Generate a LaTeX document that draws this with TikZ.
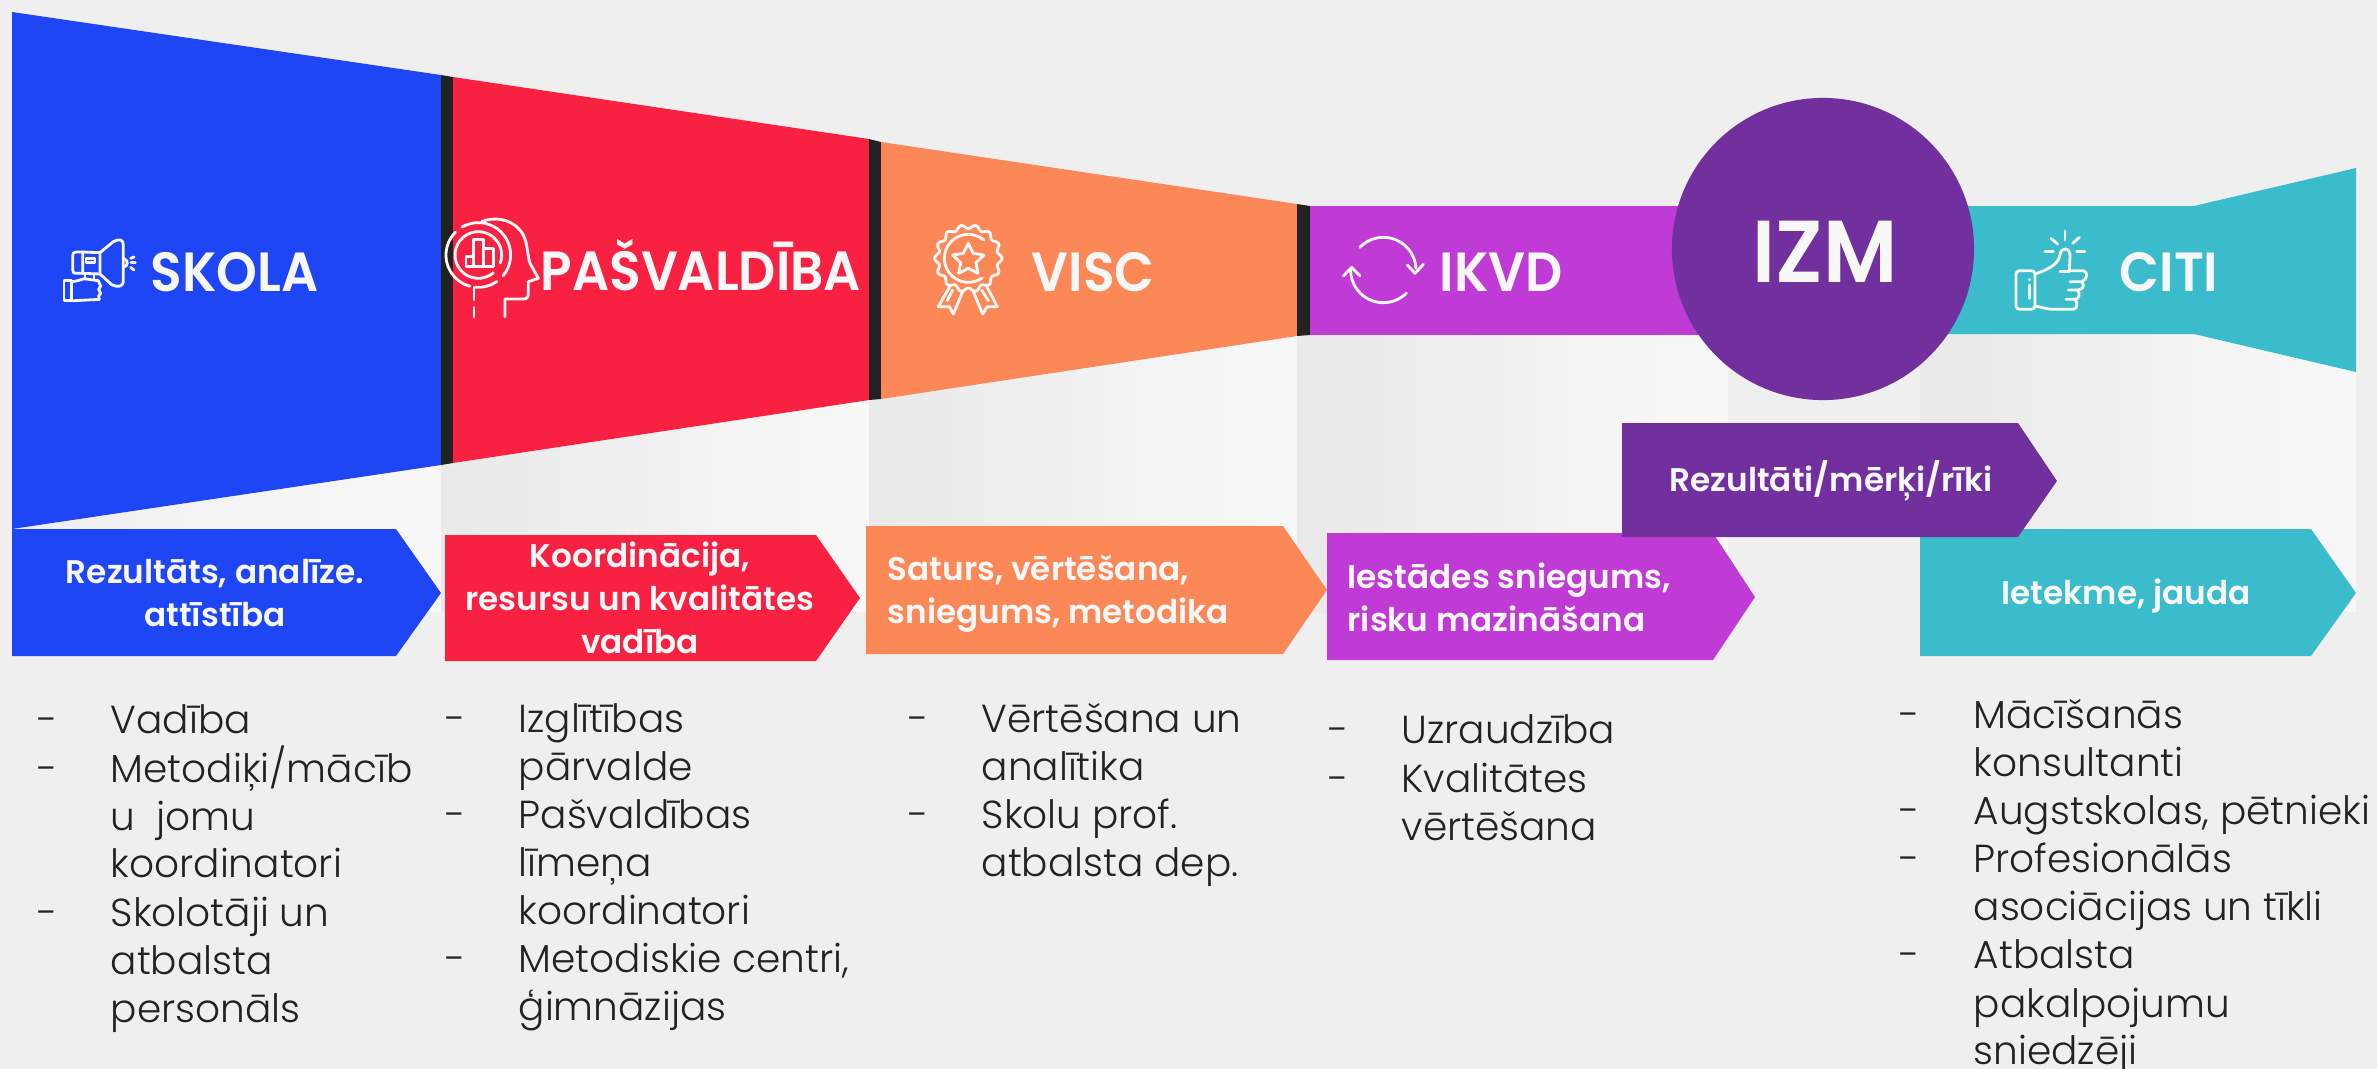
\documentclass[tikz,border=0pt]{standalone}
\usepackage{fontspec}
\setmainfont{Poppins}[UprightFont=* Light,BoldFont=* SemiBold]
\newfontfamily\headfont{Poppins SemiBold}[FakeStretch=0.94]
\definecolor{bgcol}{HTML}{EFEFEF}
\definecolor{skolacol}{HTML}{1F46F5}
\definecolor{pasvcol}{HTML}{F92142}
\definecolor{visccol}{HTML}{FC8858}
\definecolor{ikvdcol}{HTML}{C03BD6}
\definecolor{izmcol}{HTML}{71309E}
\definecolor{citicol}{HTML}{3BBCCC}
\definecolor{barcol}{HTML}{222222}
\definecolor{txtwhite}{HTML}{F8F8F8}
\definecolor{panelhi}{HTML}{F8F8F8}
\definecolor{panello}{HTML}{EAEAEA}
\tikzset{
  head/.style={text=txtwhite, font=\headfont\fontsize{15.7}{18}\selectfont, anchor=base west, inner sep=0},
  lbl/.style={text=txtwhite, font=\bfseries\fontsize{9.3}{12.3}\selectfont, align=center, inner sep=0},
  lbll/.style={lbl, align=left, anchor=west},
  itemtxt/.style={text=barcol, font=\fontsize{11.1}{13.66}\selectfont, anchor=base west, inner sep=0},
  dashtxt/.style={itemtxt},
  icon/.style={draw=txtwhite, line width=.8pt, line cap=round, line join=round},
}

\begin{document}
\begin{tikzpicture}[x=.01cm, y=-.01cm]
\useasboundingbox (0,0) rectangle (2377,1069);
\fill[bgcol] (0,0) rectangle (2377,1069);

% pale panels under the funnel
\shade[left color=bgcol, right color=panelhi] (12,529) -- (441,465) -- (441,612) -- (12,612) -- cycle;
\fill[panello] (441,465) rectangle (453,612);
\shade[left color=panello, right color=panelhi] (453,463) -- (869,400) -- (869,612) -- (453,612) -- cycle;
\fill[panello] (869,400) rectangle (881,612);
\shade[left color=panello, right color=panelhi] (881,399) -- (1297,336) -- (1297,612) -- (881,612) -- cycle;
\fill[panello] (1297,336) rectangle (1310,612);
\shade[left color=panello, right color=panelhi] (1310,335) rectangle (1728,612);
\shade[left color=panello, right color=panelhi] (1920,334) -- (2194,334) -- (2356,372) -- (2356,612) -- (1920,612) -- cycle;

% funnel
\fill[skolacol] (12,12) -- (441,75) -- (441,465) -- (12,529) -- cycle;
\fill[barcol] (441,75) -- (453,77) -- (453,463) -- (441,465) -- cycle;
\fill[pasvcol] (453,77) -- (869,139) -- (869,400) -- (453,463) -- cycle;
\fill[barcol] (869,139) -- (881,142) -- (881,399) -- (869,400) -- cycle;
\fill[visccol] (881,142) -- (1297,204) -- (1297,336) -- (881,399) -- cycle;
\fill[barcol] (1297,204) -- (1310,206) -- (1310,335) -- (1297,336) -- cycle;
\fill[ikvdcol] (1310,206) rectangle (1750,335);
\fill[citicol] (1900,206) -- (2194,206) -- (2356,168) -- (2356,372) -- (2194,334) -- (1900,334) -- cycle;
\node[circle, fill=izmcol, minimum size=3.02cm, inner sep=0] (izm) at (1823,249) {};

% arrows
\fill[skolacol] (12,529) -- (396,529) -- (441,593) -- (396,656) -- (12,656) -- cycle;
\fill[pasvcol] (445,535) -- (816,535) -- (860,598) -- (816,661) -- (445,661) -- cycle;
\fill[visccol] (866,526) -- (1283,526) -- (1327,590) -- (1283,654) -- (866,654) -- cycle;
\fill[ikvdcol] (1327,533) -- (1713,533) -- (1755,597) -- (1713,660) -- (1327,660) -- cycle;
\fill[citicol] (1920,529) -- (2311,529) -- (2356,593) -- (2311,656) -- (1920,656) -- cycle;
\fill[izmcol] (1622,423) -- (2018,423) -- (2057,481) -- (2018,537) -- (1622,537) -- cycle;

% headings
\node[head] (skola) at (150,291) {SKOLA};
\node[head] (pasv) at (540,290) {PAŠVALDĪBA};
\node[head] (visc) at (1031,291) {VISC};
\node[head] (ikvd) at (1439,291) {IKVD};
\node[head] (citi) at (2119,291) {CITI};
\node[head, font=\headfont\fontsize{25}{28}\selectfont, anchor=base] (izmtxt) at (1825,282) {IZM};

% arrow labels
\node[lbl] (skolalbl) at (215,593) {Rezultāts, analīze.\\attīstība};
\node[lbl] (pasvlbl) at (640,598) {Koordinācija,\\resursu un kvalitātes\\vadība};
\node[lbll] (visclbl) at (887,594) {Saturs, vērtēšana,\\sniegums, metodika};
\node[lbll] (ikvdlbl) at (1347,597) {Iestādes sniegums,\\risku mazināšana};
\node[lbl] (izmlbl) at (1831,481) {Rezultāti/mērķi/rīki};
\node[lbl] (citilbl) at (2126,596) {Ietekme, jauda};

% lists
\node[dashtxt] (d11) at (37,733) {-};
\node[itemtxt] (t11) at (110,733) {Vadība};
\node[dashtxt] (d12) at (37,782) {-};
\node[itemtxt] (t12) at (110,782) {Metodiķi/mācīb};
\node[itemtxt] (t13) at (110,830) {u\ \ jomu};
\node[itemtxt] (t14) at (110,877) {koordinatori};
\node[dashtxt] (d15) at (37,926) {-};
\node[itemtxt] (t15) at (110,926) {Skolotāji un};
\node[itemtxt] (t16) at (110,974) {atbalsta};
\node[itemtxt] (t17) at (110,1022) {personāls};

\node[dashtxt] (d21) at (445,732) {-};
\node[itemtxt] (t21) at (518,732) {Izglītības};
\node[itemtxt] (t22) at (518,780) {pārvalde};
\node[dashtxt] (d23) at (445,828) {-};
\node[itemtxt] (t23) at (518,828) {Pašvaldības};
\node[itemtxt] (t24) at (518,876) {līmeņa};
\node[itemtxt] (t25) at (518,924) {koordinatori};
\node[dashtxt] (d26) at (445,972) {-};
\node[itemtxt] (t26) at (518,972) {Metodiskie centri,};
\node[itemtxt] (t27) at (518,1020) {ģimnāzijas};

\node[dashtxt] (d31) at (908,732) {-};
\node[itemtxt] (t31) at (981,732) {Vērtēšana un};
\node[itemtxt] (t32) at (981,780) {analītika};
\node[dashtxt] (d33) at (908,828) {-};
\node[itemtxt] (t33) at (981,828) {Skolu prof.};
\node[itemtxt] (t34) at (981,876) {atbalsta dep.};

\node[dashtxt] (d41) at (1328,743) {-};
\node[itemtxt] (t41) at (1401,743) {Uzraudzība};
\node[dashtxt] (d42) at (1328,792) {-};
\node[itemtxt] (t42) at (1401,792) {Kvalitātes};
\node[itemtxt] (t43) at (1401,840) {vērtēšana};

\node[dashtxt] (d51) at (1899,728) {-};
\node[itemtxt] (t51) at (1973,728) {Mācīšanās};
\node[itemtxt] (t52) at (1973,776) {konsultanti};
\node[dashtxt] (d53) at (1899,824) {-};
\node[itemtxt] (t53) at (1973,824) {Augstskolas, pētnieki};
\node[dashtxt] (d54) at (1899,872) {-};
\node[itemtxt] (t54) at (1973,872) {Profesionālās};
\node[itemtxt] (t55) at (1973,920) {asociācijas un tīkli};
\node[dashtxt] (d56) at (1899,968) {-};
\node[itemtxt] (t56) at (1973,968) {Atbalsta};
\node[itemtxt] (t57) at (1973,1017) {pakalpojumu};
\node[itemtxt] (t58) at (1973,1064) {sniedzēji};

% megaphone
\begin{scope}[shift={(30,210)}, scale=1/3]
\draw[icon] (210,128) -- (250,95) .. controls (268,85) and (280,88) .. (280,105) -- (280,212) .. controls (280,232) and (262,232) .. (245,224) -- (210,192);
\draw[icon] (210,128) -- (158,126) -- (158,190) -- (210,192) -- cycle;
\draw[icon] (158,126) -- (138,126) .. controls (130,126) and (128,130) .. (128,138) -- (128,180) .. controls (128,188) and (132,190) .. (138,190) -- (158,190);
\draw[icon] (168,145) rectangle (195,157);
\draw[icon] (280,145) .. controls (296,150) and (296,168) .. (280,172);
\draw[icon] (302,145) -- (312,141);
\draw[icon] (303,158) -- (316,158);
\draw[icon] (302,172) -- (312,180);
\draw[icon] (165,192) -- (165,208);
\draw[icon] (192,192) -- (192,210);
\draw[icon] (102,212) rectangle (125,272);
\draw[icon] (125,215) .. controls (140,214) and (150,210) .. (162,206) -- (205,212) -- (212,228) -- (206,238) -- (212,250) -- (206,258) -- (208,268) -- (135,272) -- (125,272);
\end{scope}

% head with magnifier
\begin{scope}[shift={(430,200)}, scale=1/3]
\draw[icon] (155,65) .. controls (190,50) and (240,55) .. (270,90) .. controls (295,120) and (290,160) .. (300,190) -- (325,235) -- (295,245) -- (295,280) .. controls (295,292) and (290,297) .. (280,297) -- (225,297) -- (225,350);
\draw[icon] ([shift={(50:70)}]145,165) arc [start angle=50, end angle=380, radius=70];
\draw[icon] ([shift={(-120:97)}]145,165) arc [start angle=-120, end angle=40, radius=97];
\draw[icon] ([shift={(55:97)}]145,165) arc [start angle=55, end angle=95, radius=97];
\draw[icon] ([shift={(105:97)}]145,165) arc [start angle=105, end angle=225, radius=97];
\draw[icon] (108,200) -- (108,170) -- (130,170) -- (130,118) -- (160,118) -- (160,145) -- (190,145) -- (190,200) -- cycle;
\draw[icon] (130,170) -- (130,200);
\draw[icon] (160,145) -- (160,200);
\draw[icon] (132,262) -- (132,300);
\draw[icon] (132,322) -- (132,352);
\end{scope}

% rosette
\begin{scope}[shift={(910,210)}, scale=1/3]
\draw[icon] plot [domain=0:360, samples=145, smooth] ({175+(95+6*cos(14*\x))*cos(\x)}, {145+(95+6*cos(14*\x))*sin(\x)});
\draw[icon] ([shift={(-50:72)}]175,145) arc [start angle=-50, end angle=-305, radius=72];
\draw[icon] ([shift={(-60:72)}]175,145) -- ([shift={(-52:72)}]175,145);
\draw[icon] (175,100) -- (190,130) -- (222,135) -- (198,158) -- (204,190) -- (175,175) -- (146,190) -- (152,158) -- (128,135) -- (160,130) -- cycle;
\draw[icon] (122,225) -- (85,290) -- (118,290) -- (130,312) -- (158,245);
\draw[icon] (128,240) -- (112,272);
\draw[icon] (228,225) -- (262,290) -- (232,290) -- (218,312) -- (190,245);
\draw[icon] (215,240) -- (235,272);
\end{scope}

% cycle arrows
\begin{scope}[shift={(1320,220)}, scale=1/3]
\draw[icon] ([shift={(-136:98)}]190,150) arc [start angle=-136, end angle=-3, radius=98];
\draw[icon] (262,135) -- (285,160) -- (310,133);
\draw[icon] ([shift={(45:98)}]190,150) arc [start angle=45, end angle=183, radius=98];
\draw[icon] (70,168) -- (95,142) -- (120,168);
\end{scope}

% thumb up
\begin{scope}[shift={(1990,220)}, scale=1/3]
\draw[icon, rounded corners=1pt] (78,152) rectangle (135,268);
\draw[icon] (118,178) -- (118,180);
\draw[icon] (118,195) -- (118,235);
\draw[icon] (135,162) .. controls (170,150) and (205,135) .. (210,105) .. controls (212,80) and (242,80) .. (240,110) -- (238,152) -- (280,152) .. controls (296,155) and (292,180) .. (275,185) -- (240,185);
\draw[icon] (210,155) -- (238,155);
\draw[icon] (275,185) .. controls (285,195) and (280,210) .. (262,210) -- (235,210);
\draw[icon] (262,210) .. controls (272,220) and (268,238) .. (255,238) -- (228,238);
\draw[icon] (255,238) .. controls (265,250) and (262,268) .. (248,268) -- (190,268) .. controls (170,268) and (150,260) .. (135,258);
\draw[icon] (225,33) -- (225,60);
\draw[icon] (183,55) -- (203,72);
\draw[icon] (268,52) -- (248,70);
\draw[icon] (165,95) -- (190,95);
\draw[icon] (260,95) -- (285,95);
\end{scope}
\end{tikzpicture}
\end{document}
